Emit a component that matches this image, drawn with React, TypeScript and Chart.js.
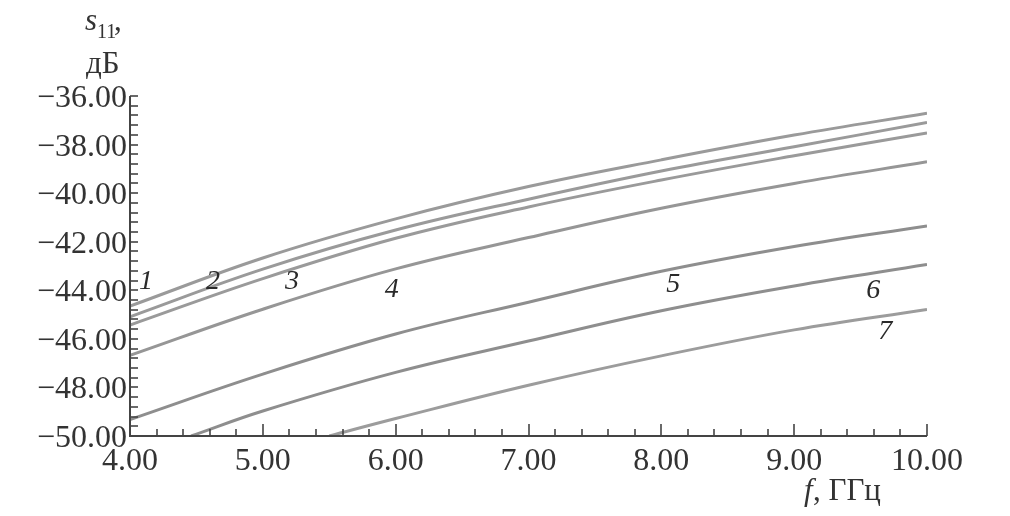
import React, { useEffect, useRef } from "react";
import { Chart, registerables } from "chart.js";

Chart.register(...registerables);

const freqs = [4, 5, 6, 7, 8, 9, 10];
const curve1 = [-44.65, -42.67, -41.06, -39.73, -38.63, -37.61, -36.71];
const curve2 = [-45.09, -43.13, -41.52, -40.25, -39.09, -38.09, -37.09];
const curve3 = [-45.43, -43.52, -41.86, -40.57, -39.46, -38.46, -37.52];
const curve4 = [-46.68, -44.78, -43.12, -41.83, -40.62, -39.6, -38.71];
const curve5 = [-49.32, -47.45, -45.8, -44.49, -43.22, -42.2, -41.35];
const freqs6 = [4.46, 5, 6, 7, 8, 9, 10];
const curve6 = [-50, -48.97, -47.38, -46.09, -44.84, -43.82, -42.94];
const freqs7 = [5.5, 6, 7, 8, 9, 10];
const curve7 = [-50, -49.28, -47.91, -46.7, -45.63, -44.79];

const xTicks = [4, 5, 6, 7, 8, 9, 10];
const yTicks = [-36, -38, -40, -42, -44, -46, -48, -50];

const labelText = ["1", "2", "3", "4", "5", "6", "7"];
const labelX = [4.12, 4.625, 5.22, 5.97, 8.09, 9.595, 9.685];
const labelY = [-43.66, -43.66, -43.66, -43.99, -43.78, -44.03, -45.72];

const SERIF = '"Liberation Serif", "DejaVu Serif", serif';

function pts(xs: number[], ys: number[]) {
  return xs.map((x, i) => ({ x, y: ys[i] }));
}

const axesPlugin = {
  id: "customAxes",
  afterDraw(chart: any) {
    const ctx = chart.ctx as CanvasRenderingContext2D;
    const xs = chart.scales.x;
    const ys = chart.scales.y;
    const { left, right, top, bottom } = chart.chartArea;
    ctx.save();
    ctx.strokeStyle = "#444";
    ctx.lineWidth = 2;
    ctx.beginPath();
    ctx.moveTo(left, top);
    ctx.lineTo(left, bottom);
    ctx.lineTo(right, bottom);
    ctx.stroke();
    ctx.lineWidth = 1.6;
    for (let i = 0; i <= 30; i++) {
      const v = 4 + i * 0.2;
      const px = Math.round(xs.getPixelForValue(v));
      const len = i % 5 === 0 ? 12 : 7;
      ctx.beginPath();
      ctx.moveTo(px, bottom);
      ctx.lineTo(px, bottom - len);
      ctx.stroke();
    }
    for (let i = 0; i <= 35; i++) {
      const v = -50 + i * 0.4;
      const py = Math.round(ys.getPixelForValue(v));
      ctx.beginPath();
      ctx.moveTo(left, py);
      ctx.lineTo(left + 8, py);
      ctx.stroke();
    }
    ctx.fillStyle = "#333";
    ctx.font = `32px ${SERIF}`;
    ctx.textBaseline = "alphabetic";
    ctx.textAlign = "right";
    for (const v of yTicks) {
      const py = ys.getPixelForValue(v);
      ctx.fillText("\u2212" + Math.abs(v).toFixed(2), left - 3, py + 11);
    }
    ctx.textAlign = "center";
    for (const v of xTicks) {
      const px = xs.getPixelForValue(v);
      ctx.fillText(v.toFixed(2), px, bottom + 34);
    }
    ctx.textAlign = "left";
    ctx.font = `italic 31px ${SERIF}`;
    ctx.fillText("s", 85, 30);
    ctx.font = `20px ${SERIF}`;
    ctx.fillText("11", 97, 38);
    ctx.font = `31px ${SERIF}`;
    ctx.fillText(",", 114, 30);
    ctx.fillText("дБ", 86, 73);
    ctx.font = `italic 31px ${SERIF}`;
    ctx.fillText("f", 804, 500);
    ctx.font = `31px ${SERIF}`;
    ctx.fillText(", ГГц", 813, 500);
    ctx.font = `italic 28px ${SERIF}`;
    ctx.textAlign = "center";
    ctx.textBaseline = "middle";
    ctx.fillStyle = "#2a2a2a";
    labelText.forEach((t, i) => {
      ctx.fillText(t, xs.getPixelForValue(labelX[i]), ys.getPixelForValue(labelY[i]));
    });
    ctx.restore();
  },
};

export default function App() {
  const ref = useRef<HTMLCanvasElement | null>(null);
  useEffect(() => {
    if (!ref.current) return;
    const series = [
      pts(freqs, curve1),
      pts(freqs, curve2),
      pts(freqs, curve3),
      pts(freqs, curve4),
      pts(freqs, curve5),
      pts(freqs6, curve6),
      pts(freqs7, curve7),
    ];
    const colors = ["#9a9a9a", "#9a9a9a", "#9a9a9a", "#969696", "#8e8e8e", "#8e8e8e", "#9c9c9c"];
    const chart = new Chart(ref.current, {
      type: "scatter",
      data: {
        datasets: series.map((d, i) => ({
          label: labelText[i],
          data: d,
          showLine: true,
          borderColor: colors[i],
          borderWidth: 3,
          pointRadius: 0,
          tension: 0.4,
          fill: false,
        })),
      },
      options: {
        animation: false,
        responsive: false,
        maintainAspectRatio: false,
        layout: { padding: { left: 130, right: 83, top: 96, bottom: 80 } },
        plugins: { legend: { display: false }, tooltip: { enabled: false } },
        scales: {
          x: { type: "linear", min: 4, max: 10, display: false },
          y: { type: "linear", min: -50, max: -36, display: false },
        },
      },
      plugins: [axesPlugin],
    });
    return () => chart.destroy();
  }, []);
  return (
    <div style={{ position: "fixed", left: 0, top: 0, width: 1010, height: 516, background: "#fff" }}>
      <canvas ref={ref} width={1010} height={516} style={{ width: 1010, height: 516 }} />
    </div>
  );
}
